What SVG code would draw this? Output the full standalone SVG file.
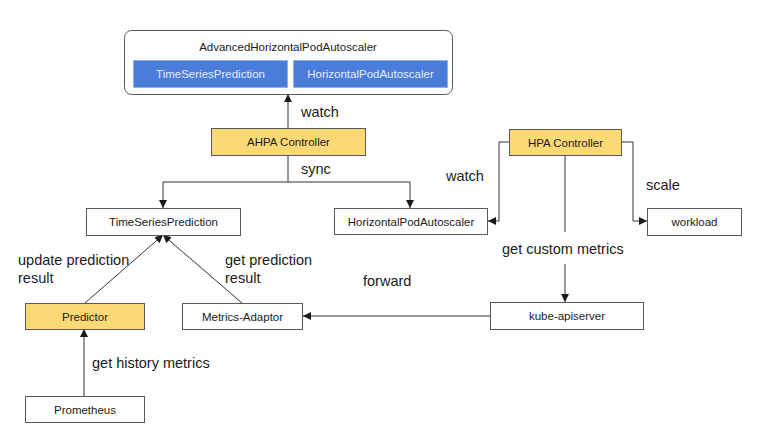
<svg xmlns="http://www.w3.org/2000/svg" width="759" height="443" viewBox="0 0 759 443">
<style>
.bg{fill:#ffffff}
.box{fill:#ffffff;stroke:#595959;stroke-width:1}
.gold{fill:#fdd976;stroke:#595959;stroke-width:1}
.blue{fill:#4a7ddb;stroke:#8fb0ea;stroke-width:1}
.nt{font-family:"Liberation Sans",Arial,sans-serif;font-size:11.5px;fill:#1a1a1a;text-anchor:middle;dominant-baseline:central}
.bt{font-family:"Liberation Sans",Arial,sans-serif;font-size:11.5px;fill:#e4ebfa;text-anchor:middle;dominant-baseline:central}
.lb{font-family:"Liberation Sans",Arial,sans-serif;font-size:14.5px;fill:#1a1a1a;dominant-baseline:central}
.ln{fill:none;stroke:#333333;stroke-width:1}
</style>
<defs>
<marker id="ah" viewBox="0 0 10 10" refX="10" refY="5" markerWidth="8" markerHeight="8" markerUnits="userSpaceOnUse" orient="auto">
<path d="M0,0 L10,5 L0,10 z" fill="#1a1a1a"/>
</marker>
</defs>
<rect class="bg" x="0" y="0" width="759" height="443"/>

<g id="connectors">
<path class="ln" d="M288,128 V94" marker-end="url(#ah)"/>
<path class="ln" d="M288,155 V182 H163 V208" marker-end="url(#ah)"/>
<path class="ln" d="M288,182 H410 V208" marker-end="url(#ah)"/>
<path class="ln" d="M509,142 H499 V221 H488" marker-end="url(#ah)"/>
<path class="ln" d="M621,142 H633 V221 H647" marker-end="url(#ah)"/>
<path class="ln" d="M565,155 V232"/>
<path class="ln" d="M565,264 V302" marker-end="url(#ah)"/>
<path class="ln" d="M490,316 H303" marker-end="url(#ah)"/>
<path class="ln" d="M85,303 L163,235" marker-end="url(#ah)"/>
<path class="ln" d="M242,303 L163,235" marker-end="url(#ah)"/>
<path class="ln" d="M84,396 V329" marker-end="url(#ah)"/>
</g>

<g id="labels">
<text class="lb" x="301" y="112">watch</text>
<text class="lb" x="301" y="169">sync</text>
<text class="lb" x="446" y="176">watch</text>
<text class="lb" x="646" y="185">scale</text>
<text class="lb" x="502" y="249">get custom metrics</text>
<text class="lb" x="363" y="281">forward</text>
<text class="lb" x="18" y="260">update prediction</text>
<text class="lb" x="18" y="278">result</text>
<text class="lb" x="225" y="260">get prediction</text>
<text class="lb" x="225" y="278">result</text>
<text class="lb" x="92" y="363">get history metrics</text>
</g>

<g id="ahpa">
<rect class="box" x="124.5" y="30.5" width="328" height="64" rx="7"/>
<text class="nt" x="288" y="47">AdvancedHorizontalPodAutoscaler</text>
<rect class="blue" x="133.5" y="60.5" width="154" height="27"/>
<text class="bt" x="210.5" y="74">TimeSeriesPrediction</text>
<rect class="blue" x="293.5" y="60.5" width="154" height="27"/>
<text class="bt" x="370.5" y="74">HorizontalPodAutoscaler</text>
</g>

<g id="ahpa-controller">
<rect class="gold" x="211.5" y="128.5" width="154" height="27"/>
<text class="nt" x="288.5" y="142">AHPA Controller</text>
</g>

<g id="hpa-controller">
<rect class="gold" x="509.5" y="129.5" width="112" height="26"/>
<text class="nt" x="565.5" y="142.5">HPA Controller</text>
</g>

<g id="tsp">
<rect class="box" x="86.5" y="208.5" width="154" height="27"/>
<text class="nt" x="163.5" y="222">TimeSeriesPrediction</text>
</g>

<g id="hpa">
<rect class="box" x="334.5" y="208.5" width="153" height="26"/>
<text class="nt" x="411" y="221.5">HorizontalPodAutoscaler</text>
</g>

<g id="workload">
<rect class="box" x="647.5" y="208.5" width="94" height="27"/>
<text class="nt" x="694.5" y="222">workload</text>
</g>

<g id="predictor">
<rect class="gold" x="25.5" y="303.5" width="119" height="26"/>
<text class="nt" x="85" y="316.5">Predictor</text>
</g>

<g id="metrics-adaptor">
<rect class="box" x="182.5" y="303.5" width="120" height="26"/>
<text class="nt" x="242.5" y="316.5">Metrics-Adaptor</text>
</g>

<g id="kube-apiserver">
<rect class="box" x="490.5" y="302.5" width="153" height="27"/>
<text class="nt" x="567" y="316">kube-apiserver</text>
</g>

<g id="prometheus">
<rect class="box" x="25.5" y="396.5" width="119" height="26"/>
<text class="nt" x="85" y="409.5">Prometheus</text>
</g>
</svg>
